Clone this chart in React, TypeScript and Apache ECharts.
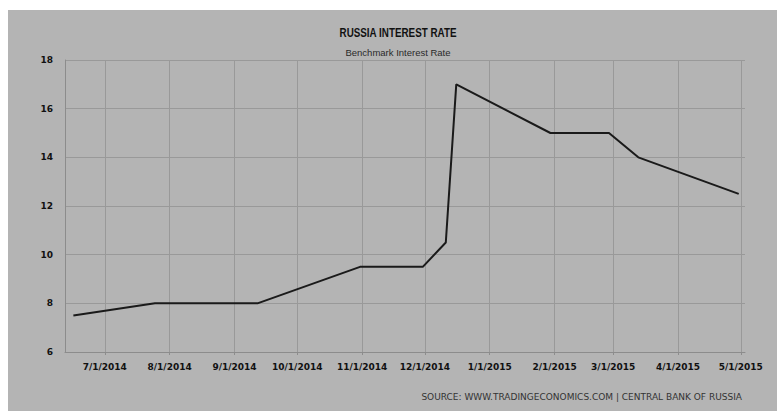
import React, { useEffect, useRef } from "react";
import * as echarts from "echarts";

const dates = [
  "2014-06-16",
  "2014-07-25",
  "2014-09-12",
  "2014-10-31",
  "2014-11-30",
  "2014-12-11",
  "2014-12-16",
  "2015-01-30",
  "2015-02-27",
  "2015-03-13",
  "2015-04-30",
];
const rates = [7.5, 8, 8, 9.5, 9.5, 10.5, 17, 15, 15, 14, 12.5];
const monthTicks = [
  "2014-07-01",
  "2014-08-01",
  "2014-09-01",
  "2014-10-01",
  "2014-11-01",
  "2014-12-01",
  "2015-01-01",
  "2015-02-01",
  "2015-03-01",
  "2015-04-01",
  "2015-05-01",
];
const yTicks = [6, 8, 10, 12, 14, 16, 18];
const titleText = "RUSSIA INTEREST RATE";
const subtitleText = "Benchmark Interest Rate";
const sourceText = "SOURCE: WWW.TRADINGECONOMICS.COM | CENTRAL BANK OF RUSSIA";

const ts = (s: string) => {
  const [y, m, d] = s.split("-").map(Number);
  return Date.UTC(y, m - 1, d);
};

const fmt = (v: number) => {
  const d = new Date(v);
  return `${d.getUTCMonth() + 1}/${d.getUTCDate()}/${d.getUTCFullYear()}`;
};

export default function App() {
  const ref = useRef<HTMLDivElement>(null);
  useEffect(() => {
    if (!ref.current) return;
    const chart = echarts.init(ref.current, undefined, { renderer: "svg" });
    const tickVals = monthTicks.map(ts);
    chart.setOption({
      animation: false,
      backgroundColor: "#b4b4b4",
      grid: { left: 57, right: 32, top: 50, bottom: 59, containLabel: false },
      xAxis: {
        type: "value",
        min: ts("2014-06-12"),
        max: ts("2015-05-03"),
        axisLine: { show: true, lineStyle: { color: "#8c8c8c", width: 1 } },
        axisTick: {
          show: true,
          length: 3,
          customValues: tickVals,
          lineStyle: { color: "#8c8c8c" },
        },
        axisLabel: {
          customValues: tickVals,
          formatter: (v: number) => fmt(v),
          fontFamily: "DejaVu Sans",
          fontWeight: "bold",
          fontSize: 9,
          color: "#111",
          margin: 10,
        },
        splitLine: { show: false },
      },
      yAxis: {
        type: "value",
        min: yTicks[0],
        max: yTicks[yTicks.length - 1],
        interval: 2,
        axisLine: { show: true, lineStyle: { color: "#8c8c8c", width: 1 } },
        axisTick: { show: false },
        axisLabel: {
          fontFamily: "DejaVu Sans",
          fontWeight: "bold",
          fontSize: 9,
          color: "#111",
          margin: 12,
        },
        splitLine: { show: true, lineStyle: { color: "#999999", width: 1 } },
      },
      graphic: [
        {
          type: "text",
          x: 390,
          y: 23,
          scaleX: 0.82,
          style: {
            text: titleText,
            fontFamily: "Liberation Sans",
            fontWeight: "bold",
            fontSize: 12,
            fill: "#111",
            textAlign: "center",
            textVerticalAlign: "middle",
          },
        },
        {
          type: "text",
          x: 390,
          y: 42,
          style: {
            text: subtitleText,
            fontFamily: "Liberation Sans",
            fontSize: 9.5,
            fill: "#2a2a2a",
            textAlign: "center",
            textVerticalAlign: "middle",
          },
        },
        {
          type: "text",
          x: 734,
          y: 387,
          style: {
            text: sourceText,
            fontFamily: "DejaVu Sans",
            fontSize: 9,
            fill: "#333",
            textAlign: "right",
            textVerticalAlign: "middle",
          },
        },
      ],
      series: [
        {
          type: "line",
          data: dates.map((d, i) => [ts(d), rates[i]]),
          showSymbol: false,
          symbol: "none",
          lineStyle: { color: "#1a1a1a", width: 2 },
          z: 5,
          markLine: {
            silent: true,
            symbol: ["none", "none"],
            label: { show: false },
            lineStyle: { color: "#999999", width: 1, type: "solid" },
            data: tickVals.map((v) => ({ xAxis: v })),
            z: 1,
          },
        },
      ],
    });
    return () => chart.dispose();
  }, []);
  return (
    <div
      ref={ref}
      style={{ position: "absolute", left: 8, top: 10, width: 769, height: 401 }}
    />
  );
}
